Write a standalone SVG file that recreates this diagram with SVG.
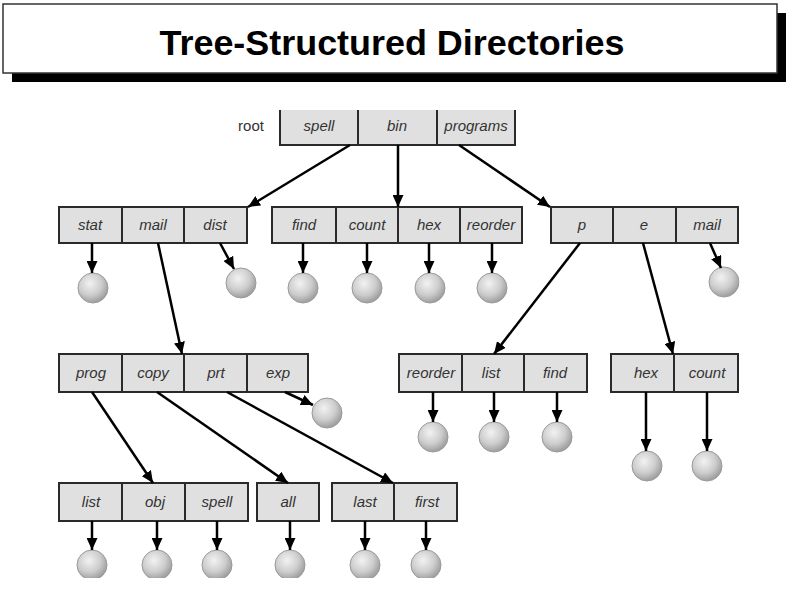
<svg xmlns="http://www.w3.org/2000/svg" width="786" height="598" viewBox="0 0 786 598">
<style>
.cell{fill:#e0e0e0;stroke:#2a2a2a;stroke-width:2}
.lbl{font-family:"Liberation Sans",Arial,sans-serif;font-style:italic;font-size:15px;fill:#333;text-anchor:middle}
.plain{font-family:"Liberation Sans",Arial,sans-serif;font-size:15px;fill:#333;text-anchor:middle}
.file{fill:url(#ball);stroke:#9a9a9a;stroke-width:1}
.edge{stroke:#000;stroke-width:2.5;fill:none;marker-end:url(#arr)}
.title{font-family:"Liberation Sans",Arial,sans-serif;font-weight:bold;font-size:35px;fill:#000;text-anchor:middle}
</style>
<defs>
<radialGradient id="ball" cx="40%" cy="35%" r="70%">
<stop offset="0" stop-color="#f2f2f2"/>
<stop offset="0.55" stop-color="#cdcdcd"/>
<stop offset="1" stop-color="#959595"/>
</radialGradient>
<marker id="arr" markerUnits="userSpaceOnUse" markerWidth="13" markerHeight="11" refX="12" refY="5.5" orient="auto">
<path d="M0,0 L12,5.5 L0,11 z" fill="#000"/>
</marker>
<clipPath id="crop"><rect x="0" y="110" width="739.5" height="468"/></clipPath>
</defs>
<rect width="786" height="598" fill="#fff"/>
<g id="title">
<rect x="12" y="13" width="774" height="69" fill="#000"/>
<rect x="3" y="4" width="774" height="69" fill="#fff" stroke="#333" stroke-width="1.5"/>
<text class="title" x="392" y="55" textLength="465" lengthAdjust="spacingAndGlyphs">Tree-Structured Directories</text>
</g>
<g clip-path="url(#crop)">
<g id="root">
<text class="plain" x="251" y="131">root</text>
<rect class="cell" x="280" y="100" width="78" height="45"/><text class="lbl" x="319" y="131">spell</text>
<rect class="cell" x="358" y="100" width="79" height="45"/><text class="lbl" x="397" y="131">bin</text>
<rect class="cell" x="437" y="100" width="78" height="45"/><text class="lbl" x="476" y="131">programs</text>
</g>
<g id="dir-spell">
<rect class="cell" x="59" y="207" width="63" height="36"/><text class="lbl" x="90" y="230">stat</text>
<rect class="cell" x="122" y="207" width="62" height="36"/><text class="lbl" x="153" y="230">mail</text>
<rect class="cell" x="184" y="207" width="63" height="36"/><text class="lbl" x="215" y="230">dist</text>
</g>
<g id="dir-bin">
<rect class="cell" x="272" y="207" width="64" height="36"/><text class="lbl" x="304" y="230">find</text>
<rect class="cell" x="336" y="207" width="62" height="36"/><text class="lbl" x="367" y="230">count</text>
<rect class="cell" x="398" y="207" width="62" height="36"/><text class="lbl" x="429" y="230">hex</text>
<rect class="cell" x="460" y="207" width="62" height="36"/><text class="lbl" x="491" y="230">reorder</text>
</g>
<g id="dir-programs">
<rect class="cell" x="551" y="207" width="62" height="36"/><text class="lbl" x="582" y="230">p</text>
<rect class="cell" x="613" y="207" width="63" height="36"/><text class="lbl" x="644" y="230">e</text>
<rect class="cell" x="676" y="207" width="62" height="36"/><text class="lbl" x="707" y="230">mail</text>
</g>
<g id="dir-mail">
<rect class="cell" x="59" y="354" width="63" height="38"/><text class="lbl" x="91" y="378">prog</text>
<rect class="cell" x="122" y="354" width="62" height="38"/><text class="lbl" x="153" y="378">copy</text>
<rect class="cell" x="184" y="354" width="63" height="38"/><text class="lbl" x="216" y="378">prt</text>
<rect class="cell" x="247" y="354" width="61" height="38"/><text class="lbl" x="278" y="378">exp</text>
</g>
<g id="dir-p">
<rect class="cell" x="399" y="354" width="63" height="38"/><text class="lbl" x="431" y="378">reorder</text>
<rect class="cell" x="462" y="354" width="62" height="38"/><text class="lbl" x="491" y="378">list</text>
<rect class="cell" x="524" y="354" width="63" height="38"/><text class="lbl" x="555" y="378">find</text>
</g>
<g id="dir-e">
<rect class="cell" x="611" y="354" width="63" height="38"/><text class="lbl" x="646" y="378">hex</text>
<rect class="cell" x="674" y="354" width="64" height="38"/><text class="lbl" x="707" y="378">count</text>
</g>
<g id="dir-prog">
<rect class="cell" x="59" y="483" width="63" height="38"/><text class="lbl" x="91" y="507">list</text>
<rect class="cell" x="122" y="483" width="63" height="38"/><text class="lbl" x="155" y="507">obj</text>
<rect class="cell" x="185" y="483" width="63" height="38"/><text class="lbl" x="217" y="507">spell</text>
</g>
<g id="dir-copy">
<rect class="cell" x="257" y="483" width="62" height="38"/><text class="lbl" x="288" y="507">all</text>
</g>
<g id="dir-prt">
<rect class="cell" x="332" y="483" width="62" height="38"/><text class="lbl" x="365" y="507">last</text>
<rect class="cell" x="394" y="483" width="63" height="38"/><text class="lbl" x="427" y="507">first</text>
</g>
<g id="files">
<g id="f-stat"><circle class="file" cx="93" cy="288" r="15"/></g>
<g id="f-dist"><circle class="file" cx="241" cy="283" r="15"/></g>
<g id="f-find"><circle class="file" cx="303" cy="288" r="15"/></g>
<g id="f-count"><circle class="file" cx="367" cy="288" r="15"/></g>
<g id="f-hex"><circle class="file" cx="430" cy="288" r="15"/></g>
<g id="f-reorder"><circle class="file" cx="492" cy="288" r="15"/></g>
<g id="f-mail"><circle class="file" cx="724" cy="282" r="15"/></g>
<g id="f-exp"><circle class="file" cx="327" cy="413" r="15"/></g>
<g id="f-p-reorder"><circle class="file" cx="433" cy="437" r="15"/></g>
<g id="f-p-list"><circle class="file" cx="494" cy="437" r="15"/></g>
<g id="f-p-find"><circle class="file" cx="557" cy="437" r="15"/></g>
<g id="f-e-hex"><circle class="file" cx="647" cy="466" r="15"/></g>
<g id="f-e-count"><circle class="file" cx="707" cy="466" r="15"/></g>
<g id="f-list"><circle class="file" cx="92" cy="565" r="15"/></g>
<g id="f-obj"><circle class="file" cx="157" cy="565" r="15"/></g>
<g id="f-spell"><circle class="file" cx="217" cy="565" r="15"/></g>
<g id="f-all"><circle class="file" cx="290" cy="565" r="15"/></g>
<g id="f-last"><circle class="file" cx="365" cy="565" r="15"/></g>
<g id="f-first"><circle class="file" cx="426" cy="565" r="15"/></g>
</g>
<g id="connectors">
<line class="edge" x1="350" y1="145" x2="248" y2="207"/>
<line class="edge" x1="398" y1="145" x2="398" y2="207"/>
<line class="edge" x1="459" y1="145" x2="550" y2="207"/>
<line class="edge" x1="92" y1="243" x2="92" y2="273"/>
<line class="edge" x1="220" y1="243" x2="234" y2="269"/>
<line class="edge" x1="303" y1="243" x2="303" y2="273"/>
<line class="edge" x1="367" y1="243" x2="367" y2="273"/>
<line class="edge" x1="429" y1="243" x2="429" y2="273"/>
<line class="edge" x1="492" y1="243" x2="492" y2="273"/>
<line class="edge" x1="710" y1="243" x2="721" y2="268"/>
<line class="edge" x1="158" y1="243" x2="182" y2="354"/>
<line class="edge" x1="580" y1="243" x2="494" y2="354"/>
<line class="edge" x1="643" y1="243" x2="673" y2="354"/>
<line class="edge" x1="285" y1="392" x2="313" y2="405"/>
<line class="edge" x1="433" y1="392" x2="433" y2="422"/>
<line class="edge" x1="494" y1="392" x2="494" y2="422"/>
<line class="edge" x1="557" y1="392" x2="557" y2="422"/>
<line class="edge" x1="646" y1="392" x2="646" y2="451"/>
<line class="edge" x1="707" y1="392" x2="707" y2="451"/>
<line class="edge" x1="92" y1="392" x2="153" y2="483"/>
<line class="edge" x1="157" y1="392" x2="288" y2="483"/>
<line class="edge" x1="227" y1="392" x2="393" y2="483"/>
<line class="edge" x1="92" y1="521" x2="92" y2="550"/>
<line class="edge" x1="157" y1="521" x2="157" y2="550"/>
<line class="edge" x1="217" y1="521" x2="217" y2="550"/>
<line class="edge" x1="290" y1="521" x2="290" y2="550"/>
<line class="edge" x1="365" y1="521" x2="365" y2="550"/>
<line class="edge" x1="426" y1="521" x2="426" y2="550"/>
</g>
</g>
</svg>
